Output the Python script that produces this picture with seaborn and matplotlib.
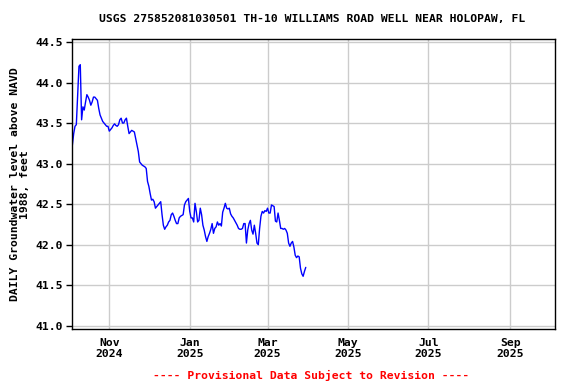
import matplotlib
matplotlib.use("Agg")
import matplotlib.pyplot as plt
import matplotlib.dates as mdates
import seaborn as sns
import pandas as pd

title = "USGS 275852081030501 TH-10 WILLIAMS ROAD WELL NEAR HOLOPAW, FL"
ylabel = "DAILY Groundwater level above NAVD\n1988, feet"
footer = "---- Provisional Data Subject to Revision ----"

start_date = "2024-10-03"
day_offset = list(range(0, 179))
level_ft = [
    43.13, 43.23, 43.37, 43.46, 43.48, 43.85, 44.20, 44.22, 43.54, 43.70,
    43.66, 43.76, 43.85, 43.82, 43.78, 43.72, 43.76, 43.82, 43.82, 43.80,
    43.78, 43.68, 43.60, 43.56, 43.52, 43.50, 43.48, 43.46, 43.46, 43.40,
    43.42, 43.44, 43.47, 43.49, 43.47, 43.46, 43.48, 43.54, 43.56, 43.50,
    43.50, 43.54, 43.56, 43.46, 43.37, 43.39, 43.41, 43.40, 43.39, 43.31,
    43.23, 43.15, 43.02, 43.00, 42.98, 42.97, 42.96, 42.94, 42.78, 42.72,
    42.63, 42.55, 42.56, 42.53, 42.45, 42.47, 42.49, 42.51, 42.53, 42.37,
    42.24, 42.19, 42.22, 42.24, 42.28, 42.30, 42.37, 42.39, 42.35, 42.30,
    42.26, 42.26, 42.33, 42.35, 42.36, 42.37, 42.49, 42.53, 42.55, 42.57,
    42.41, 42.33, 42.33, 42.28, 42.51, 42.41, 42.28, 42.30, 42.45, 42.37,
    42.24, 42.18, 42.10, 42.04, 42.10, 42.14, 42.19, 42.26, 42.14, 42.20,
    42.22, 42.28, 42.24, 42.26, 42.23, 42.40, 42.45, 42.51, 42.45, 42.44,
    42.45, 42.38, 42.35, 42.33, 42.30, 42.27, 42.24, 42.20, 42.19, 42.19,
    42.20, 42.26, 42.26, 42.02, 42.18, 42.26, 42.30, 42.18, 42.13, 42.24,
    42.14, 42.02, 42.00, 42.20, 42.35, 42.41, 42.39, 42.42, 42.41, 42.45,
    42.39, 42.39, 42.49, 42.48, 42.47, 42.29, 42.28, 42.39, 42.30, 42.20,
    42.20, 42.19, 42.20, 42.18, 42.14, 42.02, 41.98, 42.02, 42.04, 41.97,
    41.87, 41.84, 41.86, 41.85, 41.71, 41.64, 41.61, 41.67, 41.72,
]

yticks = [41.0, 41.5, 42.0, 42.5, 43.0, 43.5, 44.0, 44.5]

dates = pd.Timestamp(start_date) + pd.to_timedelta(day_offset, unit="D")
df = pd.DataFrame({"date": dates, "level": level_ft})

sns.set_style("white")
plt.rcParams["font.family"] = ["DejaVu Sans Mono"]
plt.rcParams["font.weight"] = "bold"
plt.rcParams["text.color"] = "black"
plt.rcParams["axes.labelcolor"] = "black"
plt.rcParams["xtick.color"] = "black"
plt.rcParams["ytick.color"] = "black"

fig = plt.figure(figsize=(5.76, 3.84), dpi=100)
ax = fig.add_axes([0.1245, 0.1424, 0.8390, 0.7553])

sns.lineplot(data=df, x="date", y="level", ax=ax, color="#0000FF", linewidth=1.0)

ax.set_xlim(pd.Timestamp("2024-10-03 12:00"), pd.Timestamp("2025-10-05"))
ax.set_ylim(40.956, 44.533)
ax.set_yticks(yticks)
ax.yaxis.set_major_formatter(matplotlib.ticker.FormatStrFormatter("%.1f"))
ax.xaxis.set_major_locator(mdates.MonthLocator(bymonth=[1, 3, 5, 7, 9, 11]))
ax.xaxis.set_major_formatter(mdates.DateFormatter("%b\n%Y"))

ax.grid(True, color="#cccccc", linewidth=1.0)
ax.set_axisbelow(True)
for s in ax.spines.values():
    s.set_color("black")
    s.set_linewidth(1.0)

ax.tick_params(axis="y", which="major", direction="out", length=4, width=1,
               color="black", labelcolor="black", labelsize=8.2, pad=2, left=True)
ax.tick_params(axis="x", which="major", length=0, labelcolor="black",
               labelsize=8.2, pad=6)
for lab in ax.get_xticklabels() + ax.get_yticklabels():
    lab.set_fontweight("bold")

ax.set_xlabel("")
ax.set_ylabel(ylabel, fontsize=8.2, fontweight="bold", color="black",
              labelpad=4, linespacing=1.0)

fig.text(0.542, 0.95, title, ha="center", va="center", fontsize=8.2,
         fontweight="bold", color="black")
fig.text(0.54, 0.023, footer, ha="center", va="center", fontsize=8.2,
         fontweight="bold", color="#FF0000")

fig.savefig("out.png", dpi=100)
